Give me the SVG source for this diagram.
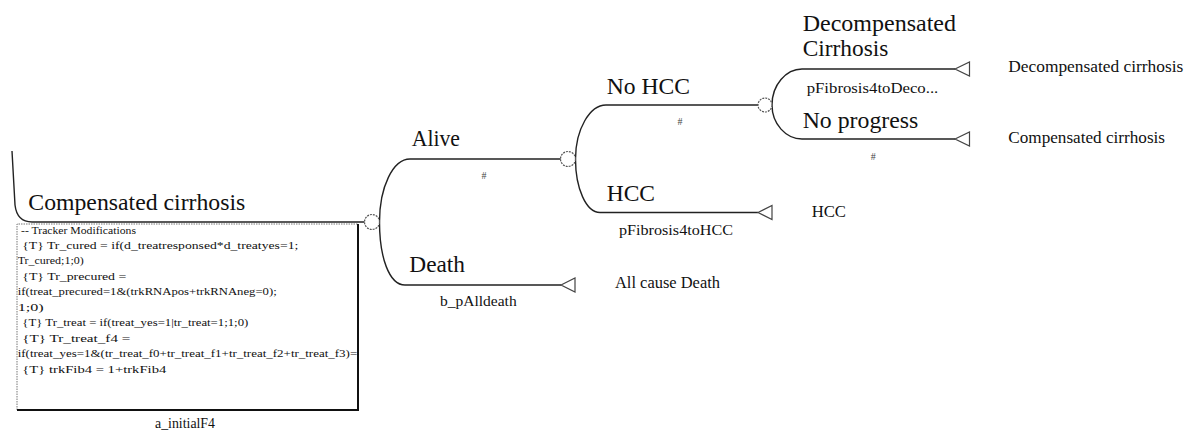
<svg xmlns="http://www.w3.org/2000/svg" width="1186" height="434" viewBox="0 0 1186 434" font-family="'Liberation Serif', 'DejaVu Serif', serif">
<style>
text{font-family:'Liberation Serif','DejaVu Serif',serif;fill:#111}
.br{font-size:23px}
.sm{font-size:14px}
.tm{font-size:16px}
.hs{font-size:10px;fill:#444}
.bx{font-size:11px}
.edge{fill:none;stroke:#222;stroke-width:1.4}
.chance{fill:#fff;stroke:#555;stroke-width:1.2;stroke-dasharray:2 1}
.term{fill:#fff;stroke:#444;stroke-width:1.2}
</style>
<defs>
<clipPath id="boxclip"><rect x="17" y="224" width="340" height="186"/></clipPath>
</defs>
<g id="connectors">
<path class="edge" d="M12 151 L15 205 Q17 222 32 222 L364.5 222"/>
<path class="edge" d="M379.5 222 C379.5 187 393 159 410 159 L561 159"/>
<path class="edge" d="M379.5 222 C379.5 257 389 285 405 285 L561 285"/>
<path class="edge" d="M575.5 159 C575.5 129 590 105 606 105 L758 105"/>
<path class="edge" d="M575.5 159 C575.5 188 586 212.5 600 212.5 L758 212.5"/>
<path class="edge" d="M772 105 C772 85 786 69 802 69 L955 69"/>
<path class="edge" d="M772 105 C772 124 786 139 802 139 L955 139"/>
<text class="br" x="28.3" y="210" textLength="217" lengthAdjust="spacingAndGlyphs">Compensated cirrhosis</text>
<text class="br" x="411.7" y="146" textLength="48.3" lengthAdjust="spacingAndGlyphs">Alive</text>
<text class="hs" x="484" y="179" text-anchor="middle">#</text>
<text class="br" x="409.3" y="271.7" textLength="55.7" lengthAdjust="spacingAndGlyphs">Death</text>
<text class="sm" x="440" y="306" textLength="76.7" lengthAdjust="spacingAndGlyphs">b_pAlldeath</text>
<text class="br" x="606.7" y="94" textLength="83.3" lengthAdjust="spacingAndGlyphs">No HCC</text>
<text class="hs" x="680" y="125" text-anchor="middle">#</text>
<text class="br" x="606.7" y="201" textLength="48.3" lengthAdjust="spacingAndGlyphs">HCC</text>
<text class="sm" x="619" y="235" textLength="114" lengthAdjust="spacingAndGlyphs">pFibrosis4toHCC</text>
<text class="br" x="802.7" y="30.7" textLength="153.3" lengthAdjust="spacingAndGlyphs">Decompensated</text>
<text class="br" x="802.7" y="56" textLength="85.7" lengthAdjust="spacingAndGlyphs">Cirrhosis</text>
<text class="sm" x="806.7" y="92.7" textLength="131.6" lengthAdjust="spacingAndGlyphs">pFibrosis4toDeco...</text>
<text class="br" x="802.7" y="128.3" textLength="115.6" lengthAdjust="spacingAndGlyphs">No progress</text>
<text class="hs" x="873.3" y="160" text-anchor="middle">#</text>
</g>
<g id="root-tracker">
<g clip-path="url(#boxclip)">
<text class="bx" x="21" y="233.5" textLength="115" lengthAdjust="spacingAndGlyphs">-- Tracker Modifications</text>
<text class="bx" x="22.3" y="248.5" textLength="276" lengthAdjust="spacingAndGlyphs">{T} Tr_cured = if(d_treatresponsed*d_treatyes=1;</text>
<text class="bx" x="17.7" y="264" textLength="66" lengthAdjust="spacingAndGlyphs">Tr_cured;1;0)</text>
<text class="bx" x="22.3" y="279.5" textLength="104" lengthAdjust="spacingAndGlyphs">{T} Tr_precured =</text>
<text class="bx" x="17.7" y="295" textLength="259" lengthAdjust="spacingAndGlyphs">if(treat_precured=1&amp;(trkRNApos+trkRNAneg=0);</text>
<text class="bx" x="17.7" y="310.5" textLength="26" lengthAdjust="spacingAndGlyphs">1;0)</text>
<text class="bx" x="22.3" y="326" textLength="226" lengthAdjust="spacingAndGlyphs">{T} Tr_treat = if(treat_yes=1|tr_treat=1;1;0)</text>
<text class="bx" x="22.3" y="341.5" textLength="108" lengthAdjust="spacingAndGlyphs">{T} Tr_treat_f4 =</text>
<text class="bx" x="17.7" y="357" textLength="346" lengthAdjust="spacingAndGlyphs">if(treat_yes=1&amp;(tr_treat_f0+tr_treat_f1+tr_treat_f2+tr_treat_f3)=0</text>
<text class="bx" x="22.3" y="372.5" textLength="144" lengthAdjust="spacingAndGlyphs">{T} trkFib4 = 1+trkFib4</text>
</g>
<path d="M17 410 L17 224 L358 224" fill="none" stroke="#777" stroke-width="1" stroke-dasharray="1.5 1"/>
<path d="M358 224 L358 410 L17 410" fill="none" stroke="#111" stroke-width="2"/>
<text class="sm" x="155" y="428" textLength="60" lengthAdjust="spacingAndGlyphs">a_initialF4</text>
</g>
<g id="chance-root"><circle class="chance" cx="372" cy="222" r="7.5"/></g>
<g id="chance-alive"><circle class="chance" cx="568" cy="159" r="7.5"/></g>
<g id="chance-nohcc"><circle class="chance" cx="765" cy="105" r="7"/></g>
<g id="term-death">
<path class="term" d="M561 285 L575 278 L575 292 Z"/>
<text class="tm" x="615" y="288.3" textLength="105" lengthAdjust="spacingAndGlyphs">All cause Death</text>
</g>
<g id="term-hcc">
<path class="term" d="M758 212.5 L772 205.5 L772 219.5 Z"/>
<text class="tm" x="811.7" y="216.7" textLength="34.3" lengthAdjust="spacingAndGlyphs">HCC</text>
</g>
<g id="term-decomp">
<path class="term" d="M955 69 L969.5 62 L969.5 76 Z"/>
<text class="tm" x="1008.3" y="71.7" textLength="175" lengthAdjust="spacingAndGlyphs">Decompensated cirrhosis</text>
</g>
<g id="term-noprog">
<path class="term" d="M955 139 L969.5 132 L969.5 146 Z"/>
<text class="tm" x="1008.3" y="142.5" textLength="156.7" lengthAdjust="spacingAndGlyphs">Compensated cirrhosis</text>
</g>
</svg>
